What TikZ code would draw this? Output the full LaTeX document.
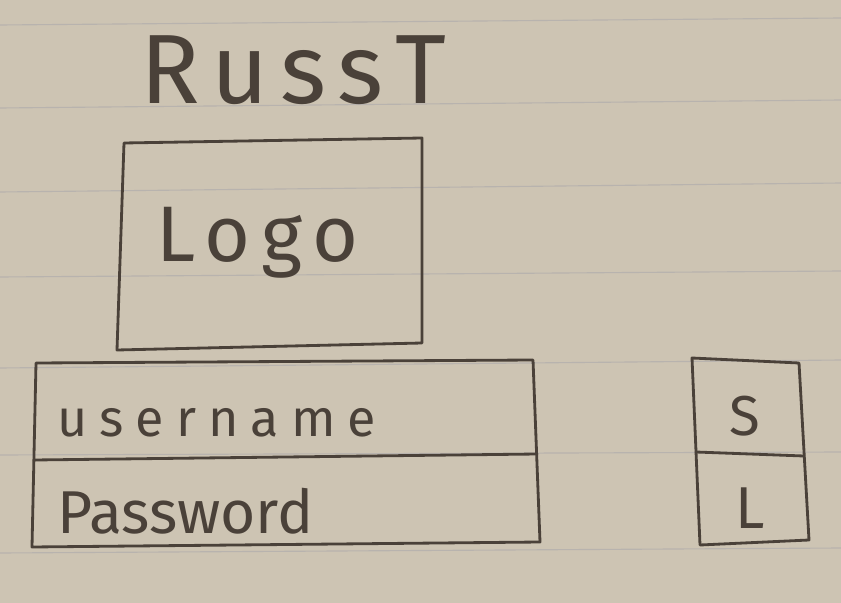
\documentclass[tikz,border=0pt]{standalone}
\usepackage{fontspec}
\setmainfont{Fira Sans}
\definecolor{paper}{RGB}{205,196,179}
\definecolor{rule}{RGB}{184,179,174}
\definecolor{pencil}{RGB}{74,65,57}

\begin{document}
\begin{tikzpicture}[x=0.025cm, y=-0.025cm, every node/.style={inner sep=0pt, text=pencil, anchor=base west}, every path/.style={draw=pencil, line width=2pt, line join=round, line cap=round}, rule/.style={draw=rule, line width=0.8pt}]
			\useasboundingbox[draw=none] (0,0) rectangle (841,603);
			\fill[paper, draw=none] (0,0) rectangle (841,603);
			
			% ruled paper
			\foreach \ya/\yb in {25/18, 108/100, 192/183, 277/271, 368/360, 455/452, 553/548}
				\draw[rule] (0,\ya) -- (841,\yb);
			
			\node[font=\fontsize{70}{72}\selectfont\addfontfeature{LetterSpace=12}] (title) at (139,104){RussT};
			
			\draw (124,143) -- (422,138) -- (422,343) -- (117,350) -- cycle;
			\node[font=\fontsize{56}{58}\selectfont\addfontfeature{LetterSpace=14}] (logo) at (155,262){Logo};
			
			\draw (36,363) -- (533,360) -- (540,542) -- (32,547) -- cycle;
			\draw (34,460) -- (537,454);
			\node[font=\fontsize{37}{39}\selectfont\addfontfeature{LetterSpace=23}] (user) at (56,436){username};
			\node[font=\fontsize{43}{45}\selectfont] (pass) at (56,533){Password};
			
			\draw (692,358) -- (799,363) -- (809,540) -- (700,545) -- cycle;
			\draw (696,452) -- (804,456);
			\node[font=\fontsize{40}{42}\selectfont, anchor=base] (s) at (745,435){S};
			\node[font=\fontsize{42}{44}\selectfont, anchor=base] (l) at (750,528){L};
			\end{tikzpicture}
\end{document}
